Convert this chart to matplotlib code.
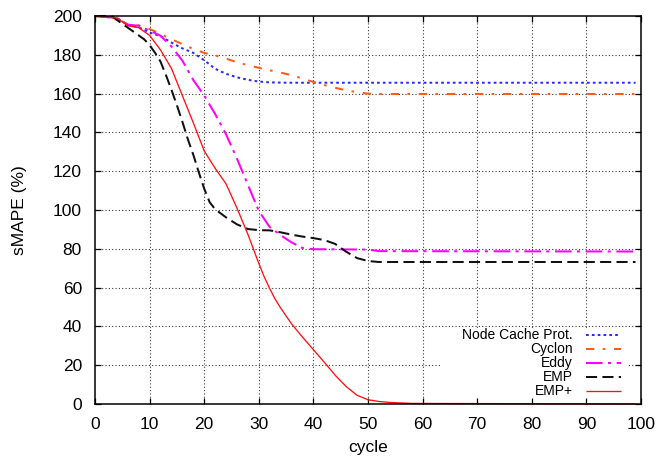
import matplotlib
matplotlib.use("Agg")
import matplotlib.pyplot as plt
from matplotlib.patches import Rectangle
from matplotlib.lines import Line2D

plt.rcParams['font.family'] = ['Liberation Sans', 'DejaVu Sans']
plt.rcParams['lines.scale_dashes'] = False

# sMAPE (%) per cycle for each protocol
ncp_cycle = [0, 4, 6, 8, 10, 12, 14, 16, 18, 20, 22, 24, 26, 28, 30, 32, 35, 40, 99]
ncp_smape = [200, 199, 195.5, 194.2, 191.5, 189.6, 186.3, 183.3, 181, 177.2, 172.8,
             170.2, 168.4, 167.1, 166.2, 165.8, 165.6, 165.6, 165.6]

cyclon_cycle = [0, 4, 6, 8, 10, 12, 14, 16, 18, 20, 22, 24, 26, 28, 30, 32, 34, 36,
                38, 40, 42, 44, 46, 48, 50, 52, 99]
cyclon_smape = [200, 199, 195.5, 195.2, 193.3, 190.8, 188, 185.5, 183, 181, 179.7,
                178, 176.2, 174.6, 173.3, 172, 170.8, 169.5, 167.8, 166, 164.4, 163,
                161.7, 160.7, 160, 159.8, 159.8]

eddy_cycle = [0, 4, 6, 8, 10, 12, 14, 16, 18, 20, 22, 24, 26, 28, 30, 32, 34, 36, 38,
              40, 50, 52, 99]
eddy_smape = [200, 199, 195.5, 195, 192.5, 189.8, 184.3, 177, 167, 159, 149.5, 139,
              126.5, 113, 99.5, 91.2, 87, 83.3, 80.4, 79.8, 79.6, 78.8, 78.6]

emp_cycle = [0, 3, 5, 7, 9, 10, 11, 12, 13, 14, 15, 16, 17, 18, 19, 20, 21, 22, 24,
             26, 28, 30, 32, 34, 36, 38, 40, 42, 44, 46, 48, 50, 52, 99]
emp_smape = [200, 200, 196, 192, 188, 185, 181, 176.5, 169.5, 162, 154, 145.5, 136.5,
             128.5, 119.5, 111, 104, 100.4, 96.2, 92.6, 90.2, 89.6, 89.5, 88.5, 87.3,
             86.3, 85.5, 84.5, 82.5, 78.5, 75.2, 73.7, 73.2, 73.2]

empp_cycle = [0, 4, 6, 8, 10, 12, 14, 16, 18, 20, 22, 24, 26, 28, 30, 31, 32, 33, 34,
              36, 38, 40, 42, 44, 46, 48, 50, 52, 54, 58, 99]
empp_smape = [200, 199, 195, 194, 190, 182.5, 173, 159, 145, 130.5, 121.5, 113.5, 101,
              87.5, 72.5, 65.5, 59.5, 54, 49.5, 41.3, 34.5, 28, 21.5, 14.8, 9, 4.5, 2.2,
              1.3, 0.8, 0.3, 0]

x_ticks = list(range(0, 101, 10))
y_ticks = list(range(0, 201, 20))

series = [
    ("Node Cache Prot.", ncp_cycle, ncp_smape,
     dict(color="#2b2bff", lw=1.45, dashes=(1.95, 2.25))),
    ("Cyclon", cyclon_cycle, cyclon_smape,
     dict(color="#ff5c1c", lw=1.45, dashes=(6.0, 6.0, 1.9, 6.3))),
    ("Eddy", eddy_cycle, eddy_smape,
     dict(color="#ff00ff", lw=1.45, dashes=(12.0, 3.8, 2.2, 4.1))),
    ("EMP", emp_cycle, emp_smape,
     dict(color="#111111", lw=1.45, dashes=(8.0, 3.8))),
    ("EMP+", empp_cycle, empp_smape,
     dict(color="#ff1010", lw=0.95, dashes=None)),
]

fig = plt.figure(figsize=(6.6, 4.58), dpi=100)
ax = fig.add_axes([95 / 660, 1 - 404 / 458, 546 / 660, 388 / 458])
ax.set_xlim(0, 100)
ax.set_ylim(0, 200)

# dotted grid behind everything
grid_style = dict(color="#3a3a3a", lw=0.8, dashes=(0.8, 1.6), zorder=0.5)
for xv in x_ticks[1:-1]:
    ax.add_line(Line2D([xv, xv], [0, 200], **grid_style))
for yv in y_ticks[1:-1]:
    ax.add_line(Line2D([0, 100], [yv, yv], **grid_style))

for label, cx, cy, st in series:
    kw = dict(color=st["color"], lw=st["lw"], clip_on=False, zorder=2,
              dash_capstyle="butt", solid_capstyle="butt")
    line, = ax.plot(cx, cy, **kw)
    if st["dashes"]:
        line.set_dashes(st["dashes"])

# key in the lower right corner on an opaque white patch
ax.add_patch(Rectangle((0.632, 0.0), 0.344, 0.197, transform=ax.transAxes,
                       facecolor="white", edgecolor="none", zorder=1))
key_rows = [0.1786, 0.141, 0.1065, 0.0688, 0.0343]
for (label, cx, cy, st), yr in zip(series, key_rows):
    ax.text(0.8755, yr, label, transform=ax.transAxes, ha="right", va="center",
            fontsize=10, zorder=3)
    sample = Line2D([0.8993, 0.9634], [yr, yr], transform=ax.transAxes,
                    color=st["color"], lw=st["lw"], zorder=3,
                    dash_capstyle="butt", solid_capstyle="butt")
    if st["dashes"]:
        sample.set_dashes(st["dashes"])
    ax.add_line(sample)

ax.set_xticks(x_ticks)
ax.set_yticks(y_ticks)
ax.tick_params(direction="in", length=4, width=0.9, top=True, right=True,
               labelsize=12.5, pad=9.4)
for sp in ax.spines.values():
    sp.set_linewidth(1.1)
    sp.set_zorder(2.6)

ax.set_xlabel("cycle", fontsize=12.5, va="center")
ax.xaxis.set_label_coords(0.5, -0.111)
ax.set_ylabel("sMAPE (%)", fontsize=12.5, va="center")
ax.yaxis.set_label_coords(-0.139, 0.5)

fig.savefig("out.png", dpi=100)
